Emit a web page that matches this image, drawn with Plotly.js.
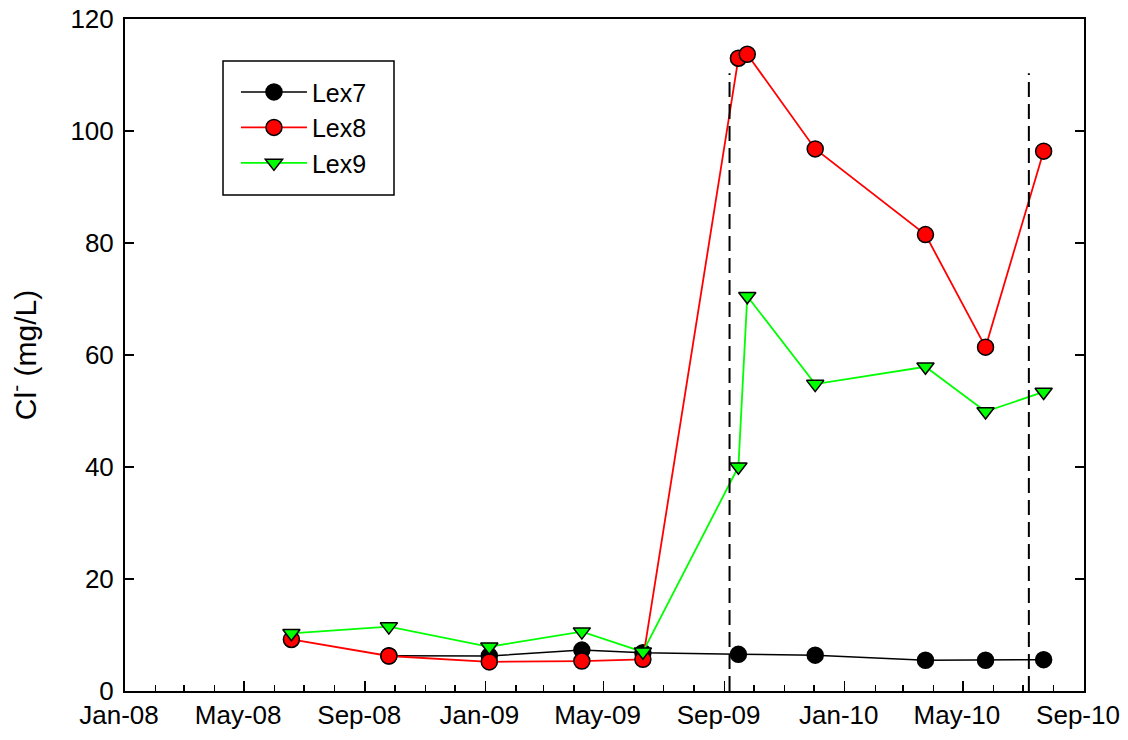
<!DOCTYPE html>
<html>
<head>
<meta charset="utf-8">
<script src="https://cdn.plot.ly/plotly-3.0.1.min.js"></script>
<style>html,body{margin:0;padding:0;background:#fff;}#chart{width:1128px;height:740px;}</style>
</head>
<body>
<div id="chart"></div>
<script>
// Lex7 (black circles)
const lex7Dates = ['2008-09-25','2009-01-05','2009-04-09','2009-06-10','2009-09-15','2009-12-02','2010-03-24','2010-05-24','2010-07-22'];
const lex7Values = [6.3, 6.25, 7.3, 6.85, 6.55, 6.4, 5.5, 5.5, 5.6];

// Lex8 (red circles)
const lex8Dates = ['2008-06-18','2008-09-25','2009-01-05','2009-04-09','2009-06-10','2009-09-15','2009-09-24','2009-12-02','2010-03-24','2010-05-24','2010-07-22'];
const lex8Values = [9.2, 6.25, 5.2, 5.35, 5.65, 113.0, 113.7, 96.8, 81.5, 61.4, 96.4];

// Lex9 (green down-triangles)
const lex9Dates = ['2008-06-18','2008-09-25','2009-01-05','2009-04-09','2009-06-10','2009-09-15','2009-09-24','2009-12-02','2010-03-24','2010-05-24','2010-07-22'];
const lex9Values = [10.3, 11.5, 7.9, 10.6, 7.0, 40.05, 70.5, 54.8, 57.9, 49.9, 53.4];

// vertical dashed reference lines
const refLineDates = ['2009-09-06','2010-07-07'];
const refLineTop = 110.3;

const yTickVals = [0, 20, 40, 60, 80, 100, 120];

const FONT = 'Liberation Sans, Arial, sans-serif';

const traces = [
  {x: lex7Dates, y: lex7Values, name: 'Lex7', type: 'scatter', mode: 'lines+markers',
   line: {color: '#000000', width: 1.5},
   marker: {symbol: 'circle', size: 16, color: '#000000', line: {color: '#000000', width: 1.5}}},
  {x: lex8Dates, y: lex8Values, name: 'Lex8', type: 'scatter', mode: 'lines+markers',
   line: {color: '#ff0000', width: 1.8},
   marker: {symbol: 'circle', size: 16, color: '#ff0000', line: {color: '#000000', width: 1.5}}},
  {x: lex9Dates, y: lex9Values, name: 'Lex9', type: 'scatter', mode: 'lines+markers',
   line: {color: '#00ff00', width: 1.8},
   marker: {symbol: 'triangle-down', size: 15, color: '#00ff00', line: {color: '#000000', width: 1.5}}}
];

const shapes = refLineDates.map(d => ({
  type: 'line', xref: 'x', yref: 'y', x0: d, x1: d, y0: 0, y1: refLineTop,
  line: {color: '#000000', width: 2, dash: '15px,7px'}
}));
// legend frame
shapes.push({
  type: 'rect', xref: 'paper', yref: 'paper', x0: 0.1022, x1: 0.2805, y0: 0.7381, y1: 0.9375,
  line: {color: '#000000', width: 1.5}, fillcolor: 'rgba(0,0,0,0)', layer: 'above'
});

const layout = {
  width: 1128, height: 740,
  margin: {l: 125, r: 44, t: 19, b: 49},
  paper_bgcolor: '#ffffff', plot_bgcolor: '#ffffff',
  font: {family: FONT, color: '#000000', size: 26},
  showlegend: true,
  legend: {
    x: 0.1157, y: 0.9254, xanchor: 'left', yanchor: 'top',
    bgcolor: 'rgba(0,0,0,0)', borderwidth: 0,
    font: {family: FONT, size: 25, color: '#000000'},
    itemwidth: 66, tracegroupgap: 0
  },
  xaxis: {
    type: 'date', range: ['2008-01-01', '2010-09-01'],
    tick0: '2008-01-01', dtick: 'M4', tickformat: '%b-%y',
    ticks: 'inside', ticklen: 10, tickwidth: 1.5, tickcolor: '#000000',
    minor: {dtick: 'M1', ticks: 'inside', ticklen: 6, tickwidth: 1.5, tickcolor: '#000000', showgrid: false},
    showline: true, linecolor: '#000000', linewidth: 2, mirror: true,
    showgrid: false, zeroline: false, ticklabelshift: -6,
    tickfont: {family: FONT, size: 26, color: '#000000'}
  },
  yaxis: {
    range: [0, 120], tickvals: yTickVals, ticktext: yTickVals.map(String),
    ticks: 'inside', ticklen: 9, tickwidth: 1.5, tickcolor: '#000000',
    showline: true, linecolor: '#000000', linewidth: 2, mirror: 'ticks',
    showgrid: false, zeroline: false, ticklabelstandoff: 4,
    tickfont: {family: FONT, size: 26, color: '#000000'},
    title: {text: 'Cl<sup>-</sup> (mg/L)', font: {family: FONT, size: 30, color: '#000000'}, standoff: 25}
  },
  shapes: shapes
};

Plotly.newPlot('chart', traces, layout, {staticPlot: true, displayModeBar: false});
</script>
</body>
</html>
